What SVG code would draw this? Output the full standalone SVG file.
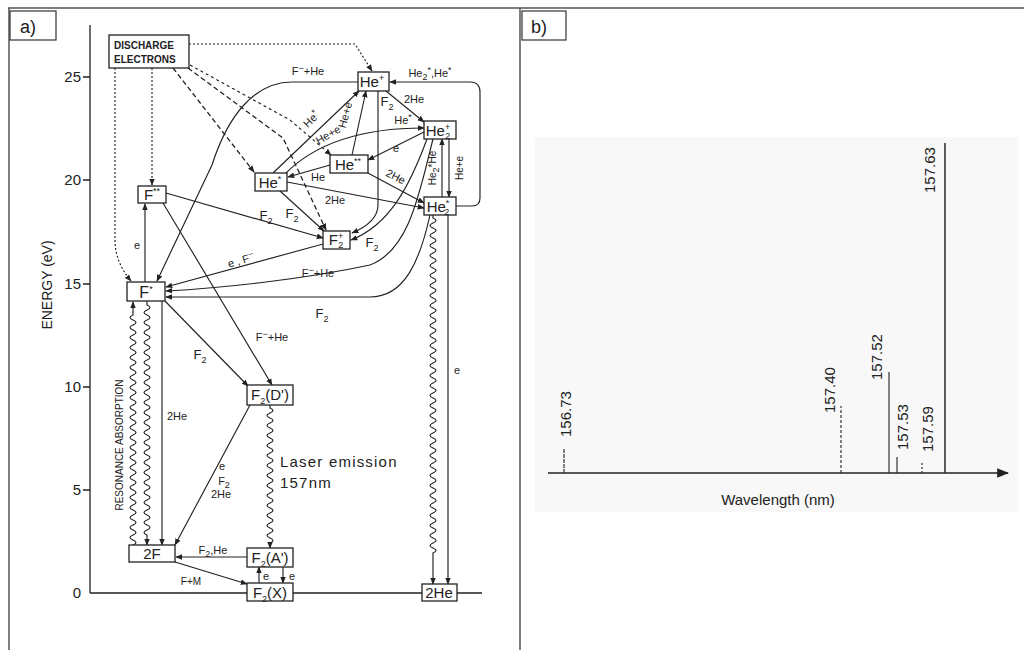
<svg xmlns="http://www.w3.org/2000/svg" width="1024" height="650" viewBox="0 0 1024 650">
<defs>
<marker id="a" viewBox="0 0 10 10" refX="9" refY="5" markerWidth="7" markerHeight="7" orient="auto" markerUnits="userSpaceOnUse"><path d="M0,1 L10,5 L0,9 z" fill="#222"/></marker>
<marker id="b" viewBox="0 0 10 10" refX="9" refY="5" markerWidth="12" markerHeight="12" orient="auto" markerUnits="userSpaceOnUse"><path d="M0,1 L10,5 L0,9 z" fill="#222"/></marker>
<style>
text{font-family:"Liberation Sans",Arial,sans-serif;fill:#222}
.n{font-size:15px;text-anchor:middle}
.l{font-size:11px;text-anchor:middle}
.t{font-size:15px;text-anchor:end}
.sp{font-size:9px}
.box{fill:#fff;stroke:#222;stroke-width:1.3}
.c path{fill:none;stroke:#222;stroke-width:1.15;marker-end:url(#a)}
.c path.dt{stroke-dasharray:2,2}
.c path.ds{stroke-dasharray:5,3;stroke-width:1.3}
.c path.dn{stroke-dasharray:3,3}
.sl{stroke:#333;fill:none}
</style>
</defs>
<rect width="1024" height="650" fill="#fff"/>
<!-- frame -->
<path d="M8,8 H1024 M9,8 V650 M520,8 V650" stroke="#555" stroke-width="1.5" fill="none"/>
<rect x="10" y="11" width="46" height="29" fill="#fff" stroke="#333" stroke-width="1.2"/>
<text x="20" y="33" style="font-size:18px">a)</text>
<rect x="522" y="11" width="44" height="29" fill="#fff" stroke="#333" stroke-width="1.2"/>
<text x="531" y="33" style="font-size:18px">b)</text>

<!-- axis -->
<g id="axis">
<path d="M90,25 V593 M83,77 H90 M83,180 H90 M83,284 H90 M83,387 H90 M83,490 H90" stroke="#222" stroke-width="1.3" fill="none"/>
<text class="t" x="81" y="82">25</text>
<text class="t" x="81" y="185">20</text>
<text class="t" x="81" y="289">15</text>
<text class="t" x="81" y="392">10</text>
<text class="t" x="81" y="495">5</text>
<text class="t" x="81" y="598">0</text>
<text transform="translate(52,285) rotate(-90)" style="font-size:14px;text-anchor:middle">ENERGY (eV)</text>
<path d="M90,593 H247 M293,593 H422 M457,593 H482" stroke="#222" stroke-width="1.3" fill="none"/>
<text transform="translate(123,445) rotate(-90)" style="font-size:10px;text-anchor:middle">RESONANCE ABSORPTION</text>
</g>

<!-- connectors -->
<g id="connectors" class="c">
<path class="dt" d="M189,44 H355 L372,71"/>
<path class="dt" d="M115,68 V240 Q115,262 131,281"/>
<path class="dt" d="M152,68 V185"/>
<path class="ds" d="M173,68 L254,172"/>
<path class="ds" d="M188,68 L283,138 L326,230"/>
<path class="dn" d="M190,65 L290,120 L331,155"/>
<path d="M358,82 H292 C255,82 228,115 212,165 L157,281"/>
<path d="M273,173 L359,91"/>
<path d="M352,155 L366,91"/>
<path d="M386,91 L424,122"/>
<path d="M378,91 V205 Q378,222 352,233"/>
<path d="M456,206 H472 Q480,206 480,198 V92 Q480,82 470,82 H390"/>
<path d="M285,174 Q330,128 424,128"/>
<path d="M424,132 L368,160"/>
<path d="M330,165 L288,177"/>
<path d="M366,172 L424,203"/>
<path d="M287,182 L424,208"/>
<path d="M280,191 L324,231"/>
<path d="M166,193 L323,238"/>
<path d="M427,139 C410,185 390,225 351,240"/>
<path d="M323,244 L166,287"/>
<path d="M433,139 C420,190 410,250 370,265 C300,280 220,288 166,291"/>
<path d="M430,215 C420,260 405,297 370,297 H166"/>
<path d="M145,282 V204"/>
<path d="M163,203 L272,385"/>
<path d="M165,301 L248,386"/>
<path d="M162,301 V545"/>
<path d="M250,405 L175,545"/>
<path d="M247,557 H176"/>
<path d="M175,562 L247,584"/>
<path d="M259,583 V567"/>
<path d="M283,567 V583"/>
<path d="M442,197 V139"/>
<path d="M449,139 V197"/>
<path d="M448,215 V584"/>
<!-- wavy -->
<path d="M133,545 q6,-2.5 0,-5 t0,-5 t0,-5 t0,-5 t0,-5 t0,-5 t0,-5 t0,-5 t0,-5 t0,-5 t0,-5 t0,-5 t0,-5 t0,-5 t0,-5 t0,-5 t0,-5 t0,-5 t0,-5 t0,-5 t0,-5 t0,-5 t0,-5 t0,-5 t0,-5 t0,-5 t0,-5 t0,-5 t0,-5 t0,-5 t0,-5 t0,-5 t0,-5 t0,-5 t0,-5 t0,-5 t0,-5 t0,-5 t0,-5 t0,-5 t0,-5 t0,-5 t0,-5 t0,-5 t0,-5 t0,-5 L133,302"/>
<path d="M147,301 v4 q6,2.5 0,5 t0,5 t0,5 t0,5 t0,5 t0,5 t0,5 t0,5 t0,5 t0,5 t0,5 t0,5 t0,5 t0,5 t0,5 t0,5 t0,5 t0,5 t0,5 t0,5 t0,5 t0,5 t0,5 t0,5 t0,5 t0,5 t0,5 t0,5 t0,5 t0,5 t0,5 t0,5 t0,5 t0,5 t0,5 t0,5 t0,5 t0,5 t0,5 t0,5 t0,5 t0,5 t0,5 t0,5 t0,5 t0,5 L147,545"/>
<path d="M270,405 v3 q6,2.5 0,5 t0,5 t0,5 t0,5 t0,5 t0,5 t0,5 t0,5 t0,5 t0,5 t0,5 t0,5 t0,5 t0,5 t0,5 t0,5 t0,5 t0,5 t0,5 t0,5 t0,5 t0,5 t0,5 t0,5 t0,5 t0,5 t0,5 L270,548"/>
<path d="M433,215 v3 q6,2.5 0,5 t0,5 t0,5 t0,5 t0,5 t0,5 t0,5 t0,5 t0,5 t0,5 t0,5 t0,5 t0,5 t0,5 t0,5 t0,5 t0,5 t0,5 t0,5 t0,5 t0,5 t0,5 t0,5 t0,5 t0,5 t0,5 t0,5 t0,5 t0,5 t0,5 t0,5 t0,5 t0,5 t0,5 t0,5 t0,5 t0,5 t0,5 t0,5 t0,5 t0,5 t0,5 t0,5 t0,5 t0,5 t0,5 t0,5 t0,5 t0,5 t0,5 t0,5 t0,5 t0,5 t0,5 t0,5 t0,5 t0,5 t0,5 t0,5 t0,5 t0,5 t0,5 t0,5 t0,5 t0,5 t0,5 t0,5 L433,584"/>
</g>

<!-- connector labels -->
<g id="labels">
<text class="l" x="308" y="75">F<tspan class="sp" dy="-4">−</tspan><tspan dy="4">+He</tspan></text>
<text class="l" transform="translate(314,122) rotate(-45)">He<tspan class="sp" dy="-4">*</tspan></text>
<text class="l" transform="translate(349,116) rotate(-75)">He+e</text>
<text class="l" x="414" y="103">2He</text>
<text class="l" x="387" y="106" style="font-size:13px">F<tspan class="sp" dy="4">2</tspan></text>
<text class="l" x="430" y="77">He<tspan class="sp" dy="3">2</tspan><tspan class="sp" dy="-7">*</tspan><tspan dy="4">,He</tspan><tspan class="sp" dy="-4">*</tspan></text>
<text class="l" x="403" y="124">He<tspan class="sp" dy="-4">*</tspan></text>
<text class="l" transform="translate(330,138) rotate(-30)">He+e</text>
<text class="l" x="396" y="152">e</text>
<text class="l" x="318" y="181">He</text>
<text class="l" transform="translate(394,180) rotate(27)">2He</text>
<text class="l" x="335" y="204">2He</text>
<text class="l" x="292" y="218" style="font-size:13px">F<tspan class="sp" dy="4">2</tspan></text>
<text class="l" x="266" y="220" style="font-size:13px">F<tspan class="sp" dy="4">2</tspan></text>
<text class="l" x="372" y="247" style="font-size:13px">F<tspan class="sp" dy="4">2</tspan></text>
<text class="l" transform="translate(242,264) rotate(-16)">e , F<tspan class="sp" dy="-4">−</tspan></text>
<text class="l" x="318" y="277">F<tspan class="sp" dy="-4">−</tspan><tspan dy="4">+He</tspan></text>
<text class="l" x="322" y="318" style="font-size:13px">F<tspan class="sp" dy="4">2</tspan></text>
<text class="l" x="137" y="249">e</text>
<text class="l" x="272" y="341">F<tspan class="sp" dy="-4">−</tspan><tspan dy="4">+He</tspan></text>
<text class="l" x="200" y="359" style="font-size:13px">F<tspan class="sp" dy="4">2</tspan></text>
<text class="l" x="177" y="420">2He</text>
<text class="l" x="222" y="470">e</text>
<text class="l" x="224" y="485">F<tspan class="sp" dy="3">2</tspan></text>
<text class="l" x="221" y="498">2He</text>
<text class="l" x="213" y="554">F<tspan class="sp" dy="3">2</tspan><tspan dy="-3">,He</tspan></text>
<text class="l" x="191" y="585" style="font-size:10px">F+M</text>
<text class="l" x="266" y="580">e</text>
<text class="l" x="292" y="580">e</text>
<text class="l" transform="translate(436,168) rotate(-90)" style="font-size:10px">He<tspan class="sp" dy="3">2</tspan><tspan dy="-3">*He</tspan></text>
<text class="l" transform="translate(463,168) rotate(-90)" style="font-size:10px">He+e</text>
<text class="l" x="457" y="374">e</text>
<text x="280" y="467" style="font-size:15px;letter-spacing:1.2px">Laser emission</text>
<text x="280" y="488" style="font-size:15px;letter-spacing:1.2px">157nm</text>
</g>

<!-- nodes -->
<g id="n-discharge"><rect class="box" x="109" y="35" width="80" height="33"/>
<text x="114" y="49" style="font-size:10px;font-weight:bold">DISCHARGE</text>
<text x="114" y="63" style="font-size:10px;font-weight:bold">ELECTRONS</text></g>
<g id="n-heplus"><rect class="box" x="358" y="72" width="31" height="19"/>
<text class="n" x="372" y="87">He<tspan class="sp" dy="-6">+</tspan></text></g>
<g id="n-he2plus"><rect class="box" x="424" y="121" width="32" height="18"/>
<text class="n" x="438" y="136">He<tspan class="sp" dy="-6">+</tspan><tspan class="sp" dx="-5" dy="9">2</tspan></text></g>
<g id="n-hestarstar"><rect class="box" x="330" y="155" width="38" height="18"/>
<text class="n" x="348" y="170">He<tspan class="sp" dy="-6">**</tspan></text></g>
<g id="n-hestar"><rect class="box" x="255" y="173" width="32" height="18"/>
<text class="n" x="270" y="188">He<tspan class="sp" dy="-6">*</tspan></text></g>
<g id="n-he2star"><rect class="box" x="424" y="197" width="32" height="18"/>
<text class="n" x="438" y="212">He<tspan class="sp" dy="-6">*</tspan><tspan class="sp" dx="-5" dy="9">2</tspan></text></g>
<g id="n-fstarstar"><rect class="box" x="138" y="186" width="28" height="17"/>
<text class="n" x="152" y="200">F<tspan class="sp" dy="-6">**</tspan></text></g>
<g id="n-f2plus"><rect class="box" x="323" y="231" width="27" height="18"/>
<text class="n" x="336" y="245">F<tspan class="sp" dy="-6">+</tspan><tspan class="sp" dx="-5" dy="9">2</tspan></text></g>
<g id="n-fstar"><rect class="box" x="127" y="282" width="38" height="19"/>
<text class="n" x="146" y="298" style="font-size:16px">F<tspan class="sp" dy="-6">*</tspan></text></g>
<g id="n-f2d"><rect class="box" x="247" y="385" width="46" height="20"/>
<text class="n" x="270" y="400">F<tspan class="sp" dy="4">2</tspan><tspan dy="-4">(D')</tspan></text></g>
<g id="n-2f"><rect class="box" x="129" y="545" width="46" height="17"/>
<text class="n" x="152" y="559">2F</text></g>
<g id="n-f2a"><rect class="box" x="247" y="548" width="46" height="19"/>
<text class="n" x="270" y="563">F<tspan class="sp" dy="4">2</tspan><tspan dy="-4">(A')</tspan></text></g>
<g id="n-f2x"><rect class="box" x="247" y="583" width="46" height="18"/>
<text class="n" x="270" y="598">F<tspan class="sp" dy="4">2</tspan><tspan dy="-4">(X)</tspan></text></g>
<g id="n-2he"><rect class="box" x="422" y="584" width="35" height="17"/>
<text class="n" x="439" y="598">2He</text></g>

<!-- panel b -->
<g id="spectrum">
<rect x="535" y="137" width="483" height="375" fill="#f8f8f8"/>
<path d="M548,473 H1008" stroke="#222" stroke-width="1.5" fill="none" marker-end="url(#b)"/>
<path class="sl" d="M564,473 V448" stroke-width="1.2" stroke-dasharray="4,1"/>
<path class="sl" d="M841,473 V406" stroke-width="1.2" stroke-dasharray="3,2"/>
<path class="sl" d="M889,473 V372" stroke-width="1.2"/>
<path class="sl" d="M897,473 V457" stroke-width="1.2"/>
<path class="sl" d="M922,473 V462" stroke-width="1.2" stroke-dasharray="2,2"/>
<path class="sl" d="M945,473 V143" stroke-width="1.6"/>
<text transform="translate(571,437) rotate(-90)" style="font-size:15px">156.73</text>
<text transform="translate(835,413) rotate(-90)" style="font-size:15px">157.40</text>
<text transform="translate(882,380) rotate(-90)" style="font-size:15px">157.52</text>
<text transform="translate(908,450) rotate(-90)" style="font-size:15px">157.53</text>
<text transform="translate(933,452) rotate(-90)" style="font-size:15px">157.59</text>
<text transform="translate(935,193) rotate(-90)" style="font-size:15px">157.63</text>
<text x="778" y="505" style="font-size:15px;text-anchor:middle">Wavelength (nm)</text>
</g>
</svg>
